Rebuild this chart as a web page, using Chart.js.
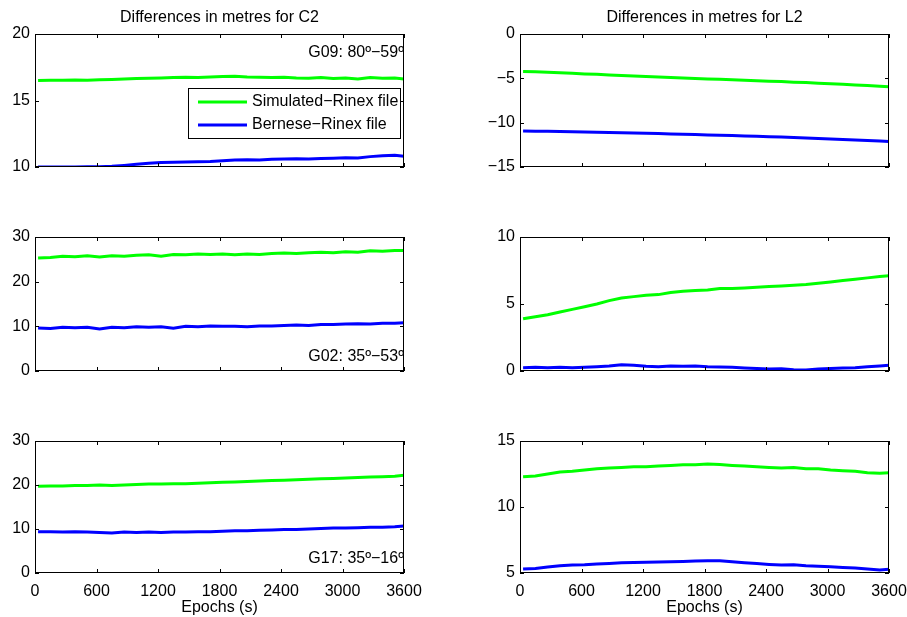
<!DOCTYPE html>
<html>
<head>
<meta charset="utf-8">
<script src="https://cdn.jsdelivr.net/npm/chart.js@4"></script>
<style>
  body { margin: 0; background: #fff; overflow: hidden; width: 907px; height: 617px; position: relative; }
  .box { position: absolute; }
</style>
</head>
<body>
<div class="box" style="left:0;top:0;width:453px;height:180px"><canvas id="c2-top"></canvas></div>
<div class="box" style="left:470px;top:0;width:460px;height:180px"><canvas id="l2-top"></canvas></div>
<div class="box" style="left:0;top:220px;width:453px;height:165px"><canvas id="c2-mid"></canvas></div>
<div class="box" style="left:470px;top:220px;width:460px;height:165px"><canvas id="l2-mid"></canvas></div>
<div class="box" style="left:0;top:420px;width:453px;height:197px"><canvas id="c2-bot"></canvas></div>
<div class="box" style="left:470px;top:420px;width:460px;height:197px"><canvas id="l2-bot"></canvas></div>
<script>
// epochs (s) of the plotted samples
const epochs = [30, 150, 270, 390, 510, 630, 750, 870, 990, 1110, 1230, 1350, 1470, 1590, 1710,
  1830, 1950, 2070, 2190, 2310, 2430, 2550, 2670, 2790, 2910, 3030, 3150, 3270, 3390, 3510, 3600];
const xTickValues = [0, 600, 1200, 1800, 2400, 3000, 3600];
const seriesLabels = ['Simulated\u2212Rinex file', 'Bernese\u2212Rinex file'];

// G09, C2
const c2TopSim = [16.50, 16.52, 16.53, 16.55, 16.53, 16.56, 16.58, 16.62, 16.66, 16.68, 16.70, 16.72, 16.74, 16.73, 16.76,
  16.80, 16.82, 16.76, 16.74, 16.72, 16.75, 16.70, 16.68, 16.72, 16.66, 16.70, 16.62, 16.72, 16.68, 16.70, 16.62];
const c2TopBer = [10.00, 10.00, 10.00, 10.00, 10.01, 10.02, 10.05, 10.12, 10.20, 10.28, 10.33, 10.35, 10.37, 10.40, 10.42,
  10.47, 10.52, 10.55, 10.52, 10.58, 10.60, 10.62, 10.60, 10.64, 10.66, 10.70, 10.68, 10.78, 10.85, 10.88, 10.80];
// G09, L2
const l2TopSim = [-4.22, -4.26, -4.32, -4.38, -4.44, -4.50, -4.55, -4.62, -4.68, -4.73, -4.80, -4.86, -4.91, -4.97, -5.02,
  -5.07, -5.11, -5.17, -5.22, -5.26, -5.32, -5.37, -5.43, -5.48, -5.55, -5.61, -5.67, -5.74, -5.81, -5.89, -5.96];
const l2TopBer = [-10.93, -10.96, -10.98, -11.00, -11.03, -11.05, -11.08, -11.11, -11.14, -11.17, -11.20, -11.23, -11.27, -11.30, -11.34,
  -11.38, -11.42, -11.46, -11.50, -11.54, -11.58, -11.62, -11.67, -11.72, -11.78, -11.84, -11.90, -11.96, -12.02, -12.08, -12.12];
// G02, C2
const c2MidSim = [25.3, 25.4, 25.7, 25.6, 25.8, 25.5, 25.8, 25.7, 25.9, 26.0, 25.7, 26.1, 26.0, 26.2, 26.1,
  26.2, 26.0, 26.2, 26.1, 26.3, 26.4, 26.3, 26.5, 26.6, 26.5, 26.7, 26.6, 26.9, 26.8, 27.0, 27.0];
const c2MidBer = [9.6, 9.5, 9.8, 9.7, 9.8, 9.4, 9.8, 9.7, 9.9, 9.8, 9.9, 9.6, 10.0, 9.9, 10.1,
  10.0, 10.0, 9.9, 10.1, 10.1, 10.2, 10.3, 10.2, 10.4, 10.4, 10.5, 10.6, 10.5, 10.7, 10.7, 10.8];
// G02, L2
const l2MidSim = [3.9, 4.05, 4.2, 4.4, 4.6, 4.8, 5.0, 5.25, 5.45, 5.55, 5.65, 5.7, 5.85, 5.95, 6.0,
  6.05, 6.15, 6.15, 6.2, 6.25, 6.3, 6.35, 6.4, 6.45, 6.55, 6.65, 6.75, 6.85, 6.95, 7.05, 7.1];
const l2MidBer = [0.25, 0.28, 0.25, 0.28, 0.25, 0.28, 0.32, 0.38, 0.47, 0.42, 0.35, 0.32, 0.38, 0.35, 0.38,
  0.32, 0.30, 0.28, 0.22, 0.18, 0.15, 0.16, 0.10, 0.08, 0.15, 0.18, 0.22, 0.25, 0.32, 0.38, 0.42];
// G17, C2
const c2BotSim = [19.7, 19.8, 19.8, 19.9, 19.9, 20.0, 19.9, 20.0, 20.1, 20.2, 20.2, 20.3, 20.3, 20.4, 20.5,
  20.6, 20.7, 20.8, 20.9, 21.0, 21.1, 21.2, 21.3, 21.4, 21.5, 21.6, 21.7, 21.8, 21.9, 22.0, 22.2];
const c2BotBer = [9.4, 9.4, 9.3, 9.4, 9.3, 9.2, 9.1, 9.3, 9.2, 9.3, 9.2, 9.3, 9.3, 9.4, 9.4,
  9.5, 9.6, 9.6, 9.7, 9.8, 9.9, 9.9, 10.0, 10.1, 10.2, 10.2, 10.3, 10.4, 10.4, 10.5, 10.7];
// G17, L2
const l2BotSim = [12.3, 12.35, 12.5, 12.65, 12.7, 12.8, 12.9, 12.95, 13.0, 13.05, 13.05, 13.1, 13.15, 13.2, 13.2,
  13.25, 13.22, 13.15, 13.1, 13.05, 13.0, 12.95, 13.0, 12.9, 12.9, 12.8, 12.75, 12.7, 12.6, 12.55, 12.6];
const l2BotBer = [5.3, 5.35, 5.45, 5.55, 5.6, 5.62, 5.68, 5.72, 5.78, 5.8, 5.82, 5.83, 5.85, 5.88, 5.9,
  5.93, 5.92, 5.85, 5.78, 5.72, 5.65, 5.6, 5.62, 5.55, 5.52, 5.48, 5.42, 5.38, 5.3, 5.22, 5.28];

const FONT = "'Liberation Sans', Arial, sans-serif";
Chart.defaults.font.family = FONT;
Chart.defaults.font.size = 16;
Chart.defaults.color = '#000';

const toPoints = (ys) => epochs.map((x, i) => ({ x, y: ys[i] }));

// drop the label overhang padding so the layout padding alone places the axes box
const noOverhang = (s) => {
  s.paddingTop = 0; s.paddingBottom = 0; s.paddingLeft = 0; s.paddingRight = 0;
};

// box, inward ticks, titles, notes and legend in the MATLAB look
const matlabAxes = {
  id: 'matlabAxes',
  afterDatasetsDraw(chart, args, opts) {
    const { ctx, chartArea: a, scales } = chart;
    ctx.save();
    ctx.strokeStyle = '#000';
    ctx.lineWidth = 1;
    ctx.strokeRect(Math.round(a.left) + 0.5, Math.round(a.top) + 0.5,
      Math.round(a.right - a.left) - 1, Math.round(a.bottom - a.top) - 1);
    const tl = 4;
    ctx.beginPath();
    xTickValues.forEach(v => {
      const px = Math.round(scales.x.getPixelForValue(v)) + 0.5;
      ctx.moveTo(px, a.bottom); ctx.lineTo(px, a.bottom - tl);
      ctx.moveTo(px, a.top); ctx.lineTo(px, a.top + tl);
    });
    scales.y.ticks.forEach(t => {
      const py = Math.round(scales.y.getPixelForValue(t.value)) + 0.5;
      ctx.moveTo(a.left, py); ctx.lineTo(a.left + tl, py);
      ctx.moveTo(a.right, py); ctx.lineTo(a.right - tl, py);
    });
    ctx.stroke();

    ctx.fillStyle = '#000';
    ctx.font = '16px ' + FONT;
    if (opts.title) {
      ctx.textAlign = 'center';
      ctx.textBaseline = 'middle';
      ctx.fillText(opts.title, (a.left + a.right) / 2, a.top - 16);
    }
    if (opts.note) {
      ctx.textAlign = 'right';
      ctx.textBaseline = 'middle';
      const ny = opts.noteAt === 'top' ? a.top + 19 : a.bottom - 14;
      ctx.fillText(opts.note, a.right, ny);
    }
    if (opts.legend) {
      const lx = a.left + 153, ly = a.top + 54, lw = 212, lh = 50;
      ctx.fillStyle = '#fff';
      ctx.fillRect(lx, ly, lw, lh);
      ctx.strokeRect(lx + 0.5, ly + 0.5, lw, lh);
      chart.data.datasets.forEach((ds, i) => {
        const yy = ly + 14 + i * 23;
        ctx.strokeStyle = ds.borderColor;
        ctx.lineWidth = 3;
        ctx.beginPath();
        ctx.moveTo(lx + 10, yy); ctx.lineTo(lx + 59, yy);
        ctx.stroke();
        ctx.fillStyle = '#000';
        ctx.textAlign = 'left';
        ctx.textBaseline = 'middle';
        ctx.fillText(ds.label, lx + 64, yy);
      });
    }
    ctx.restore();
  }
};

const makeChart = (id, sim, ber, cfg) => {
  const ctx = document.getElementById(id).getContext('2d');
  return new Chart(ctx, {
    type: 'line',
    data: {
      datasets: [
        { label: seriesLabels[0], data: toPoints(sim), borderColor: '#00ff00', borderWidth: 3, pointRadius: 0, tension: 0 },
        { label: seriesLabels[1], data: toPoints(ber), borderColor: '#0000ff', borderWidth: 3, pointRadius: 0, tension: 0 }
      ]
    },
    options: {
      responsive: true,
      maintainAspectRatio: false,
      animation: false,
      layout: { padding: { top: cfg.padTop, bottom: cfg.padBottom, right: cfg.padRight, left: 0 } },
      plugins: {
        legend: { display: false },
        tooltip: { enabled: false },
        matlabAxes: { title: cfg.title, note: cfg.note, noteAt: cfg.noteAt, legend: cfg.legend }
      },
      scales: {
        x: {
          type: 'linear',
          min: 0,
          max: 3600,
          display: cfg.showX,
          afterFit: (s) => { s.height = cfg.showX ? 44 : 0; noOverhang(s); },
          grid: { display: false, drawTicks: false },
          border: { display: false },
          ticks: { stepSize: 600, padding: 9, maxRotation: 0, autoSkip: false, callback: (v) => String(v) },
          title: { display: cfg.showX, text: 'Epochs (s)', padding: { top: 0, bottom: 0 } }
        },
        y: {
          min: cfg.yMin,
          max: cfg.yMax,
          afterFit: (s) => { s.width = cfg.yWidth; noOverhang(s); },
          grid: { display: false, drawTicks: false },
          border: { display: false },
          ticks: {
            stepSize: cfg.yStep,
            padding: 5,
            callback: (v) => String(v).replace('-', '\u2212')
          }
        }
      }
    },
    plugins: [matlabAxes]
  });
};

const left = { yWidth: 35, padRight: 49 };
const right = { yWidth: 50, padRight: 41 };

makeChart('c2-top', c2TopSim, c2TopBer, { ...left, padTop: 34, padBottom: 13, showX: false,
  yMin: 10, yMax: 20, yStep: 5, title: 'Differences in metres for C2',
  note: 'G09: 80\u00ba\u221259\u00ba', noteAt: 'top', legend: true });
makeChart('l2-top', l2TopSim, l2TopBer, { ...right, padTop: 34, padBottom: 13, showX: false,
  yMin: -15, yMax: 0, yStep: 5, title: 'Differences in metres for L2' });
makeChart('c2-mid', c2MidSim, c2MidBer, { ...left, padTop: 17, padBottom: 14, showX: false,
  yMin: 0, yMax: 30, yStep: 10, note: 'G02: 35\u00ba\u221253\u00ba', noteAt: 'bottom' });
makeChart('l2-mid', l2MidSim, l2MidBer, { ...right, padTop: 17, padBottom: 14, showX: false,
  yMin: 0, yMax: 10, yStep: 5 });
makeChart('c2-bot', c2BotSim, c2BotBer, { ...left, padTop: 21, padBottom: 0, showX: true,
  yMin: 0, yMax: 30, yStep: 10, note: 'G17: 35\u00ba\u221216\u00ba', noteAt: 'bottom' });
makeChart('l2-bot', l2BotSim, l2BotBer, { ...right, padTop: 21, padBottom: 0, showX: true,
  yMin: 5, yMax: 15, yStep: 5 });
</script>
</body>
</html>
